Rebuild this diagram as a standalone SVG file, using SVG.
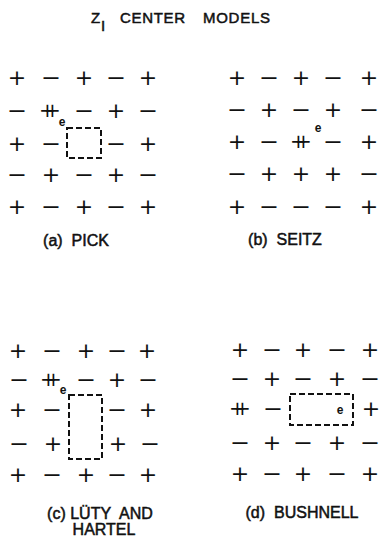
<svg xmlns="http://www.w3.org/2000/svg" width="379" height="537" viewBox="0 0 379 537">
<style>
.c{font-family:"DejaVu Sans",sans-serif;font-size:22px;text-anchor:middle;fill:#111}
.d{font-family:"DejaVu Sans",sans-serif;font-size:20px;letter-spacing:-11.76px;fill:#111}
.e{font-family:"Liberation Sans",Arial,sans-serif;font-size:12px;font-weight:bold;text-anchor:middle;fill:#111}
.t{font-family:"Liberation Sans",Arial,sans-serif;font-size:15px;fill:#111;stroke:#111;stroke-width:0.5}
.l{font-family:"Liberation Sans",Arial,sans-serif;font-size:16px;fill:#111;stroke:#111;stroke-width:0.5;text-anchor:middle}
.box{fill:none;stroke:#111;stroke-width:2;stroke-dasharray:6 3}
</style>
<rect width="379" height="537" fill="#fff"/>
<g id="title">
<text class="t" x="91" y="23">Z</text>
<text class="t" x="101" y="31" font-size="10">I</text>
<text class="t" x="120" y="23" textLength="65" lengthAdjust="spacing">CENTER</text>
<text class="t" x="203" y="23" textLength="67" lengthAdjust="spacing">MODELS</text>
</g>

<g id="panel-a">
<text class="c" x="17" y="85">+</text><text class="c" x="51" y="85" textLength="20" lengthAdjust="spacingAndGlyphs">−</text><text class="c" x="84" y="85">+</text><text class="c" x="116" y="85" textLength="20" lengthAdjust="spacingAndGlyphs">−</text><text class="c" x="148" y="85">+</text>
<text class="c" x="17" y="118" textLength="20" lengthAdjust="spacingAndGlyphs">−</text><text class="d" x="39" y="117">++</text><text class="c" x="84" y="118" textLength="20" lengthAdjust="spacingAndGlyphs">−</text><text class="c" x="116" y="118">+</text><text class="c" x="148" y="118" textLength="20" lengthAdjust="spacingAndGlyphs">−</text>
<text class="e" x="62" y="126">e</text>
<text class="c" x="17" y="151">+</text><text class="c" x="51" y="151" textLength="20" lengthAdjust="spacingAndGlyphs">−</text><text class="c" x="116" y="151" textLength="20" lengthAdjust="spacingAndGlyphs">−</text><text class="c" x="148" y="151">+</text>
<rect class="box" x="67" y="128" width="34" height="30"/>
<text class="c" x="17" y="182" textLength="20" lengthAdjust="spacingAndGlyphs">−</text><text class="c" x="51" y="182">+</text><text class="c" x="84" y="182" textLength="20" lengthAdjust="spacingAndGlyphs">−</text><text class="c" x="116" y="182">+</text><text class="c" x="148" y="182" textLength="20" lengthAdjust="spacingAndGlyphs">−</text>
<text class="c" x="17" y="214">+</text><text class="c" x="51" y="214" textLength="20" lengthAdjust="spacingAndGlyphs">−</text><text class="c" x="84" y="214">+</text><text class="c" x="116" y="214" textLength="20" lengthAdjust="spacingAndGlyphs">−</text><text class="c" x="148" y="214">+</text>
<text class="l" x="76" y="246">(a)&#160; PICK</text>
</g>

<g id="panel-b">
<text class="c" x="237" y="85">+</text><text class="c" x="269" y="85" textLength="20" lengthAdjust="spacingAndGlyphs">−</text><text class="c" x="301" y="85">+</text><text class="c" x="333" y="85" textLength="20" lengthAdjust="spacingAndGlyphs">−</text><text class="c" x="369" y="85">+</text>
<text class="c" x="237" y="117" textLength="20" lengthAdjust="spacingAndGlyphs">−</text><text class="c" x="269" y="117">+</text><text class="c" x="301" y="117" textLength="20" lengthAdjust="spacingAndGlyphs">−</text><text class="c" x="333" y="117">+</text><text class="c" x="369" y="117" textLength="20" lengthAdjust="spacingAndGlyphs">−</text>
<text class="c" x="237" y="149">+</text><text class="c" x="269" y="149" textLength="20" lengthAdjust="spacingAndGlyphs">−</text><text class="d" x="290" y="148">++</text><text class="c" x="333" y="149" textLength="20" lengthAdjust="spacingAndGlyphs">−</text><text class="c" x="369" y="149">+</text>
<text class="e" x="318" y="132">e</text>
<text class="c" x="237" y="181" textLength="20" lengthAdjust="spacingAndGlyphs">−</text><text class="c" x="269" y="181">+</text><text class="c" x="301" y="181">+</text><text class="c" x="333" y="181">+</text><text class="c" x="369" y="181" textLength="20" lengthAdjust="spacingAndGlyphs">−</text>
<text class="c" x="237" y="214">+</text><text class="c" x="269" y="214" textLength="20" lengthAdjust="spacingAndGlyphs">−</text><text class="c" x="301" y="214" textLength="20" lengthAdjust="spacingAndGlyphs">−</text><text class="c" x="333" y="214" textLength="20" lengthAdjust="spacingAndGlyphs">−</text><text class="c" x="369" y="214">+</text>
<text class="l" x="285" y="245">(b)&#160; SEITZ</text>
</g>

<g id="panel-c">
<text class="c" x="18" y="358">+</text><text class="c" x="52" y="358" textLength="20" lengthAdjust="spacingAndGlyphs">−</text><text class="c" x="86" y="358">+</text><text class="c" x="117" y="358" textLength="20" lengthAdjust="spacingAndGlyphs">−</text><text class="c" x="147" y="358">+</text>
<text class="c" x="19" y="387" textLength="20" lengthAdjust="spacingAndGlyphs">−</text><text class="d" x="40" y="386">++</text><text class="c" x="86" y="387" textLength="20" lengthAdjust="spacingAndGlyphs">−</text><text class="c" x="117" y="387">+</text><text class="c" x="148" y="387" textLength="20" lengthAdjust="spacingAndGlyphs">−</text>
<text class="e" x="63" y="394">e</text>
<text class="c" x="18" y="417">+</text><text class="c" x="52" y="417" textLength="20" lengthAdjust="spacingAndGlyphs">−</text><text class="c" x="117" y="417" textLength="20" lengthAdjust="spacingAndGlyphs">−</text><text class="c" x="148" y="417">+</text>
<rect class="box" x="69" y="395" width="33" height="64"/>
<text class="c" x="19" y="451" textLength="20" lengthAdjust="spacingAndGlyphs">−</text><text class="c" x="53" y="451">+</text><text class="c" x="118" y="451">+</text><text class="c" x="150" y="451" textLength="20" lengthAdjust="spacingAndGlyphs">−</text>
<text class="c" x="18" y="482">+</text><text class="c" x="52" y="482" textLength="20" lengthAdjust="spacingAndGlyphs">−</text><text class="c" x="86" y="482">+</text><text class="c" x="117" y="482" textLength="20" lengthAdjust="spacingAndGlyphs">−</text><text class="c" x="148" y="482">+</text>
<text class="l" x="100" y="519">(c) LÜTY&#160; AND</text>
<text class="l" x="104" y="535">HARTEL</text>
</g>

<g id="panel-d">
<text class="c" x="240" y="357">+</text><text class="c" x="272" y="357" textLength="20" lengthAdjust="spacingAndGlyphs">−</text><text class="c" x="303" y="357">+</text><text class="c" x="337" y="357" textLength="20" lengthAdjust="spacingAndGlyphs">−</text><text class="c" x="370" y="357">+</text>
<text class="c" x="240" y="386" textLength="20" lengthAdjust="spacingAndGlyphs">−</text><text class="c" x="272" y="386">+</text><text class="c" x="303" y="386" textLength="20" lengthAdjust="spacingAndGlyphs">−</text><text class="c" x="337" y="386">+</text><text class="c" x="370" y="386" textLength="20" lengthAdjust="spacingAndGlyphs">−</text>
<text class="d" x="229" y="415">++</text><text class="c" x="273" y="416" textLength="20" lengthAdjust="spacingAndGlyphs">−</text><text class="c" x="371" y="416">+</text>
<rect class="box" x="290" y="394" width="63" height="31"/>
<text class="e" x="340" y="414">e</text>
<text class="c" x="240" y="450" textLength="20" lengthAdjust="spacingAndGlyphs">−</text><text class="c" x="272" y="450">+</text><text class="c" x="303" y="450" textLength="20" lengthAdjust="spacingAndGlyphs">−</text><text class="c" x="337" y="450">+</text><text class="c" x="370" y="450" textLength="20" lengthAdjust="spacingAndGlyphs">−</text>
<text class="c" x="240" y="481">+</text><text class="c" x="272" y="481" textLength="20" lengthAdjust="spacingAndGlyphs">−</text><text class="c" x="303" y="481">+</text><text class="c" x="337" y="481" textLength="20" lengthAdjust="spacingAndGlyphs">−</text><text class="c" x="370" y="481">+</text>
<text class="l" x="302" y="518">(d)&#160; BUSHNELL</text>
</g>
</svg>
